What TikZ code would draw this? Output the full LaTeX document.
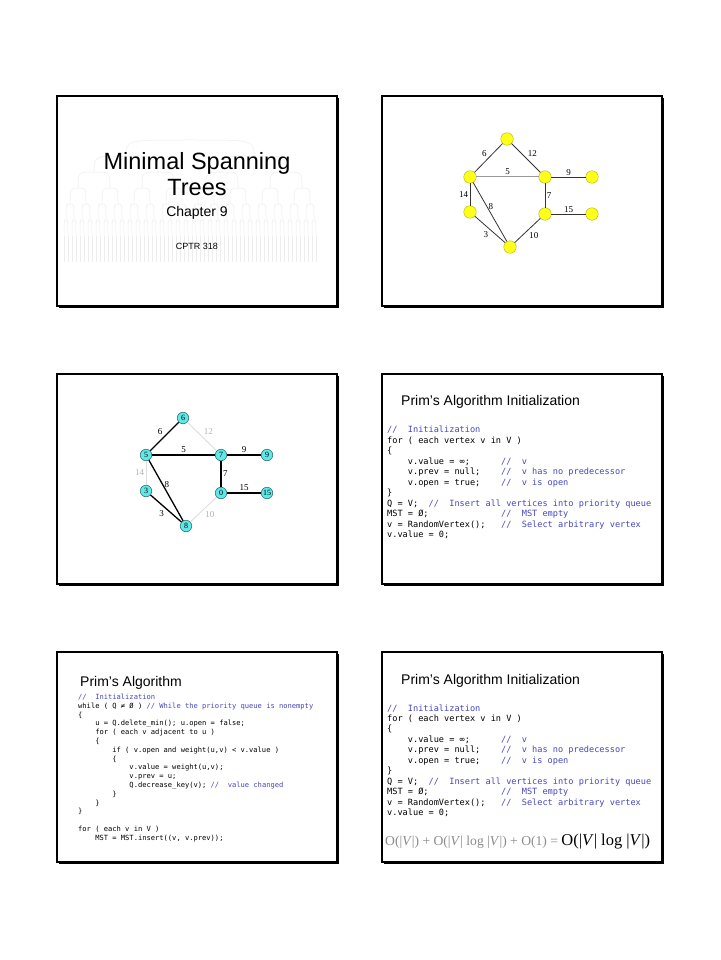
\documentclass[tikz,border=0pt]{standalone}
\usepackage{fontspec}
\setmainfont{Liberation Serif}
\setsansfont{Liberation Sans}
\setmonofont{DejaVu Sans Mono}
\usetikzlibrary{positioning}
\definecolor{SlideYellow}{HTML}{FFFF1A}
\definecolor{SlideCyan}{HTML}{5EE8E8}
\definecolor{CodeBlue}{HTML}{4646C0}
\newcommand{\cmt}[1]{\textcolor{CodeBlue}{#1}}
% the initialization listing is shown twice
\def\initlines{{\cmt{//~~Initialization}},{for ( each vertex v in V )},{\{},
 {~~~~v.value = ∞;~~~~~~\cmt{//~~v}},{~~~~v.prev = null;~~~~\cmt{//~~v has no predecessor}},
 {~~~~v.open = true;~~~~\cmt{//~~v is open}},{\}},
 {Q = V;~~\cmt{//~~Insert all vertices into priority queue}},
 {MST = Ø;~~~~~~~~~~~~~~\cmt{//~~MST empty}},
 {v = RandomVertex();~~~\cmt{//~~Select arbitrary vertex}},{v.value = 0;}}

\begin{document}
\begin{tikzpicture}[x=1pt,y=-1pt,
 slidebox/.style={draw=black,line width=1.1pt},
 slideshade/.style={draw=black,line width=2.2pt},
 bgtree/.style={draw=black!7,line width=0.5pt},
 ynode/.style={circle,fill=SlideYellow,draw=SlideYellow!70!black,line width=0.4pt,minimum size=12.5pt,inner sep=0pt},
 cnode/.style={circle,fill=SlideCyan,draw=SlideCyan!50!black,line width=0.6pt,minimum size=11.5pt,inner sep=0pt,font=\fontsize{8}{8}\selectfont},
 wt/.style={font=\fontsize{9}{9}\selectfont,inner sep=1.5pt},
 gline/.style={draw=black!80,line width=0.8pt},
 mstline/.style={draw=black,line width=1.3pt},
 offline/.style={draw=black!13,line width=0.9pt},
 slidetitle/.style={anchor=base west,font=\sffamily\fontsize{14}{14}\selectfont,inner sep=0pt},
 codeline/.style={anchor=base west,font=\ttfamily\fontsize{8.6}{10}\selectfont,inner sep=0pt},
 smallcode/.style={anchor=base west,font=\ttfamily\fontsize{7.1}{8}\selectfont,inner sep=0pt}]
\useasboundingbox[fill=white] (0,0) rectangle (720,960);

% slide frames
\foreach \sx/\sy in {57/96,382/96,57/374,382/374,57/652,382/652}{
 \draw[slidebox] (\sx,\sy) rectangle ++(280,210);
 \draw[slideshade] (\sx+280.6,\sy+2) -- ++(0,208.6) -- ++(-278.6,0);
}

% slide 1: title, faint tree behind
\foreach \l in {0,...,5}{
 \pgfmathtruncatemacro\n{2^\l-1}
 \foreach \i in {0,...,\n}{
  \pgfmathsetmacro\xp{62+(\i+0.5)*256/2^\l}
  \pgfmathsetmacro\xa{62+(2*\i+0.5)*256/2^(\l+1)}
  \pgfmathsetmacro\xb{62+(2*\i+1.5)*256/2^(\l+1)}
  \pgfmathsetmacro\yp{140+\l*16}
  \draw[bgtree] (\xp,\yp) .. controls (\xa,\yp) .. (\xa,\yp+16)
   (\xp,\yp) .. controls (\xb,\yp) .. (\xb,\yp+16);
 }
}
\foreach \i in {0,...,63} \draw[bgtree] (64+\i*4,236) -- (64+\i*4,262);
\node[anchor=base,font=\sffamily\fontsize{23.5}{24}\selectfont] (mst) at (197,170) {Minimal Spanning};
\node[anchor=base,font=\sffamily\fontsize{23.5}{24}\selectfont] (trees) at (197,196) {Trees};
\node[anchor=base,font=\sffamily\fontsize{14}{14}\selectfont] (chap) at (197,216) {Chapter 9};
\node[anchor=base,font=\sffamily\fontsize{9}{9}\selectfont] (course) at (197,249) {CPTR 318};

% slide 2: weighted graph
\node[ynode] (gt) at (507,139) {};
\node[ynode] (gl) at (470,177) {};
\node[ynode] (gm) at (545,177) {};
\node[ynode] (gr) at (592,177) {};
\node[ynode] (gd) at (470,212) {};
\node[ynode] (ge) at (545,214) {};
\node[ynode] (gf) at (592,214) {};
\node[ynode] (gb) at (510,247) {};
\draw[gline] (gt)--(gl) node[wt,midway,above left]{6};
\draw[gline] (gt)--(gm) node[wt,midway,above right]{12};
\draw[draw=black!40,line width=1pt] (gl)--(gm) node[wt,midway,above]{5};
\draw[gline] (gm)--(gr) node[wt,midway,above]{9};
\draw[gline] (gl)--(gd) node[wt,midway,left]{14};
\draw[gline] (gm)--(ge) node[wt,midway,right]{7};
\draw[gline] (gl)--(gb) node[wt,pos=0.4,right]{8};
\draw[gline] (ge)--(gf) node[wt,midway,above]{15};
\draw[gline] (gd)--(gb) node[wt,midway,below left]{3};
\draw[gline] (ge)--(gb) node[wt,midway,below right]{10};

% slide 3: spanning tree found
\node[cnode] (c6) at (183,418) {6};
\node[cnode] (c5) at (146,455) {5};
\node[cnode] (c7) at (221,455) {7};
\node[cnode] (c9) at (267,455) {9};
\node[cnode] (c3) at (146,491) {3};
\node[cnode] (c0) at (221,493) {0};
\node[cnode] (c15) at (267,493) {15};
\node[cnode] (c8) at (186,526) {8};
\draw[mstline] (c6)--(c5) node[wt,midway,above left]{6};
\draw[offline] (c6)--(c7) node[wt,midway,above right,text=black!30]{12};
\draw[mstline] (c5)--(c7) node[wt,midway,above]{5};
\draw[mstline] (c7)--(c9) node[wt,midway,above]{9};
\draw[offline] (c5)--(c3) node[wt,midway,left,text=black!30]{14};
\draw[mstline] (c5)--(c8) node[wt,pos=0.4,right]{8};
\draw[mstline] (c3)--(c8) node[wt,midway,below left]{3};
\draw[mstline] (c7)--(c0) node[wt,midway,right]{7};
\draw[mstline] (c0)--(c15) node[wt,midway,above]{15};
\draw[offline] (c0)--(c8) node[wt,midway,below right,text=black!30]{10};

% slide 4: initialization
\node[slidetitle] (init) at (401,405.7) {Prim’s Algorithm Initialization};
\foreach \t [count=\k] in \initlines
 \node[codeline] (ia\k) at (387,432.8+10.5*\k-10.5) {\t};

% slide 5: main loop
\node[slidetitle] (prim) at (80,686) {Prim’s Algorithm};
\foreach \t [count=\k] in {{\cmt{//~~Initialization}},
 {while ( Q ≠ Ø ) \cmt{// While the priority queue is nonempty}},{\{},
 {~~~~u = Q.delete\_min(); u.open = false;},{~~~~for ( each v adjacent to u )},{~~~~\{},
 {~~~~~~~~if ( v.open and weight(u,v) < v.value )},{~~~~~~~~\{},
 {~~~~~~~~~~~~v.value = weight(u,v);},{~~~~~~~~~~~~v.prev = u;},
 {~~~~~~~~~~~~Q.decrease\_key(v); \cmt{//~~value changed}},
 {~~~~~~~~\}},{~~~~\}},{\}}}
 \node[smallcode] (lp\k) at (78,699.5+8.8*\k-8.8) {\t};
\node[smallcode] (fin1) at (78,831.5) {for ( each v in V )};
\node[smallcode] (fin2) at (78,840.3) {~~~~MST = MST.insert((v, v.prev));};

% slide 6: initialization with cost
\node[slidetitle] (init2) at (401,684) {Prim’s Algorithm Initialization};
\foreach \t [count=\k] in \initlines
 \node[codeline] (ib\k) at (387,711.1+10.44*\k-10.44) {\t};
\node[anchor=base west,font=\fontsize{13.6}{14}\selectfont,text=black!45,inner sep=0pt] (cost) at (385,845)
 {O(|\textit{V}|) + O(|\textit{V}| log |\textit{V}|) + O(1) =};
\node[font=\fontsize{16.5}{17}\selectfont,inner sep=0pt,right=3pt of cost.base east,anchor=base west] (total)
 {O(|\textit{V}| log |\textit{V}|)};
\end{tikzpicture}
\end{document}
